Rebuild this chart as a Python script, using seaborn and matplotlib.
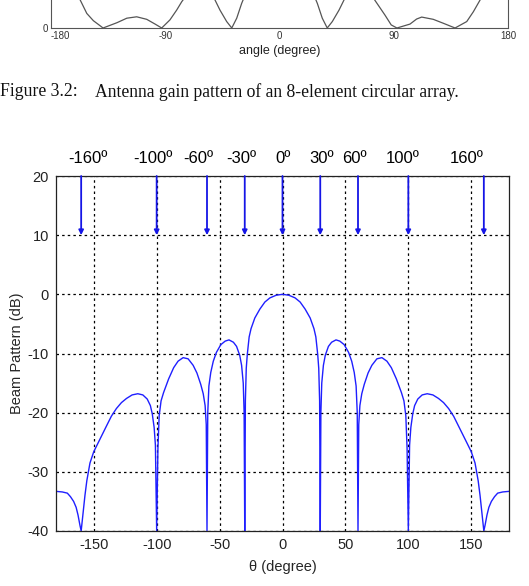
import numpy as np
import pandas as pd
import matplotlib
matplotlib.use("Agg")
import matplotlib.pyplot as plt
import matplotlib.transforms as mtransforms
import seaborn as sns

# ---------------- data ----------------
# main beam pattern (dB)
theta = [-180, -175, -171, -168.5, -166, -164, -162.5, -161, -160,
         -159, -158, -157, -155.5, -153, -150, -147, -144, -140, -136, -132, -128, -124,
         -119.5, -115, -111, -107.5, -105, -103.5, -102, -101, -100,
         -99, -98, -96.5, -94.5, -90.5, -86.5, -83, -79, -75, -71, -68, -65, -63, -61.5, -60.6, -60,
         -59.4, -58.5, -57, -55, -52.5, -49, -45.5, -42.5, -39, -36.5, -34, -32.5, -31.2, -30.5, -30,
         -29.5, -28.8, -28, -26.5, -25, -22, -18, -14, -10, -5, 0,
         5, 10, 14, 18, 22, 25, 26.5, 28, 28.8, 29.5,
         30, 30.5, 31.2, 32.5, 34, 36.5, 39, 42.5, 45.5, 49, 52.5, 55, 57, 58.5, 59.4,
         60, 60.6, 61.5, 63, 65, 68, 71, 75, 79, 83, 86.5, 90.5, 94.5, 96.5, 98, 99,
         100, 101, 102, 103.5, 105, 107.5, 111, 115, 119.5, 124, 128, 132, 136, 140, 144, 147, 150,
         153, 155.5, 157, 158, 159, 160,
         161, 162.5, 164, 166, 168.5, 171, 175, 180]
beam_db = [-33.3, -33.4, -33.6, -34.2, -35.0, -36.0, -37.3, -39.0, -40,
           -38.0, -36.0, -34.0, -31.5, -28.5, -26.6, -25.3, -24.0, -22.3, -20.6, -19.3, -18.3, -17.6,
           -17.0, -16.8, -17.0, -17.7, -18.8, -20.2, -22.5, -25.5, -40,
           -26.0, -20.5, -18.0, -16.6, -14.3, -12.4, -11.3, -10.7, -10.9, -12.0, -13.3, -15.2, -16.8, -18.8, -22.0, -40,
           -20.0, -15.5, -13.2, -11.3, -9.8, -8.5, -7.9, -7.7, -8.1, -8.8, -10.3, -12.0, -15.0, -20.0, -40,
           -18.0, -12.5, -10.2, -7.2, -5.8, -4.0, -2.5, -1.3, -0.6, -0.15, 0.0,
           -0.15, -0.6, -1.3, -2.5, -4.0, -5.8, -7.2, -10.2, -12.5, -18.0,
           -40, -20.0, -15.0, -12.0, -10.3, -8.8, -8.1, -7.7, -7.9, -8.5, -9.8, -11.3, -13.2, -15.5, -20.0,
           -40, -22.0, -18.8, -16.8, -15.2, -13.3, -12.0, -10.9, -10.7, -11.3, -12.4, -14.3, -16.6, -18.0, -20.5, -26.0,
           -40, -25.5, -22.5, -20.2, -18.8, -17.7, -17.0, -16.8, -17.0, -17.6, -18.3, -19.3, -20.6, -22.3, -24.0, -25.3, -26.6,
           -28.5, -31.5, -34.0, -36.0, -38.0, -40,
           -39.0, -37.3, -36.0, -35.0, -34.2, -33.6, -33.4, -33.3]

# arrow directions (nulls) and their labels
null_dirs = [-160, -100, -60, -30, 0, 30, 60, 100, 160]
null_labels = ["-160º", "-100º", "-60º", "-30º", "0º", "30º", "60º", "100º", "160º"]
xticks_main = [-150, -100, -50, 0, 50, 100, 150]
yticks_main = [20, 10, 0, -10, -20, -30, -40]

# previous figure (only its bottom strip is visible)
top_theta = [-180, -170, -157, -151.8, -146.6, -141, -139, -128, -120.3, -112.5, -104.6, -98, -92.8,
             -86.3, -81, -77, -76, -64, -50.8, -46.9, -41.6, -37.6, -33.7, -29.8, -28.7, 0,
             28.7, 29.8, 33.7, 37.6, 41.6, 46.9, 50.8, 64, 75, 83.1, 88, 92.5,
             102.8, 108, 112, 121.1, 129, 138.3, 147.5, 152.7, 158, 170, 180]
top_gain = [3.0, 1.8, 1.0, 0.52, 0.26, 0.07, 0.0, 0.19, 0.35, 0.40, 0.31, 0.14, 0.0,
            0.29, 0.64, 0.94, 1.0, 2.5, 1.0, 0.64, 0.23, 0.0, 0.35, 0.88, 1.0, 5.0,
            1.0, 0.88, 0.35, 0.0, 0.23, 0.64, 1.0, 2.5, 1.0, 0.46, 0.11, 0.0,
            0.14, 0.32, 0.39, 0.31, 0.17, 0.0, 0.23, 0.58, 1.0, 1.8, 3.0]
top_xticks = [-180, -135, -90, -45, 0, 45, 90, 135, 180]
top_xticklabels = ["-180", "", "-90", "", "0", "", "90", "", "180"]

caption_num = "Figure 3.2:"
caption_text = "Antenna gain pattern of an 8-element circular array."

# ---------------- style ----------------
sns.set_style("white")
plt.rcParams["font.family"] = ["Liberation Sans", "DejaVu Sans"]
plt.rcParams["axes.unicode_minus"] = False

W, H = 529, 586
fig = plt.figure(figsize=(W / 100, H / 100), dpi=100)

def frac(x0, y0, x1, y1):
    return [x0 / W, 1 - y1 / H, (x1 - x0) / W, (y1 - y0) / H]

# ---- top (previous) figure strip ----
axt = fig.add_axes(frac(51, 28 - 280, 508, 28))
df_top = pd.DataFrame({"theta": top_theta, "gain": top_gain})
sns.lineplot(data=df_top, x="theta", y="gain", ax=axt, color="#555555", lw=0.9,
             estimator=None, sort=False)
axt.set_xlim(-180, 180)
axt.set_ylim(0, 10)
axt.set_xticks(top_xticks)
axt.set_xticklabels(top_xticklabels, fontsize=7)
axt.get_xticklabels()[0].set_ha("left")
axt.get_xticklabels()[-1].set_ha("center")
axt.set_yticks([0])
axt.set_yticklabels(["0"], fontsize=7)
axt.tick_params(direction="in", length=3, width=0.6, pad=2, colors="#333333")
axt.set_xlabel("angle (degree)", fontsize=9, labelpad=3, color="#222222")
axt.set_ylabel("")
for s in ["left", "bottom", "right"]:
    axt.spines[s].set_visible(True)
    axt.spines[s].set_color("#555555")
    axt.spines[s].set_linewidth(0.8)
axt.spines["top"].set_visible(False)

# caption
serif = ["Liberation Serif", "DejaVu Serif"]
fig.text(0.5 / W, 1 - 92 / H, caption_num, family=serif,
         fontsize=12.7, ha="left", va="center", color="#111111")
fig.text(95 / W, 1 - 92 / H, caption_text, family=serif,
         fontsize=12.7, ha="left", va="center", color="#111111")

# ---- main beam pattern chart ----
ax = fig.add_axes(frac(56, 176, 509, 531))
df = pd.DataFrame({"theta": theta, "db": beam_db})
sns.lineplot(data=df, x="theta", y="db", ax=ax, color="#1f1fff", lw=1.0,
             estimator=None, sort=False)

for d in null_dirs:
    ax.annotate("", xy=(d, 10), xytext=(d, 20),
                arrowprops=dict(arrowstyle="-|>", color="#1515e6", lw=1.3,
                                mutation_scale=7, shrinkA=0, shrinkB=0))

label_x = [-155, -102.6, -66.8, -32.6, 0.8, 31, 57.3, 95.5, 146.4]
trans = mtransforms.blended_transform_factory(ax.transData, ax.transAxes)
for lx, lab in zip(label_x, null_labels):
    ax.text(lx, 1.05, lab, transform=trans, ha="center", va="center",
            fontsize=12, color="black")

ax.set_xlim(-180, 180)
ax.set_ylim(-40, 20)
ax.set_xticks(xticks_main)
ax.set_yticks(yticks_main)
ax.tick_params(direction="in", length=5, width=0.8, labelsize=10.5, pad=5, colors="#222222")
ax.grid(True, color="black", linestyle=(0, (2, 2.5)), linewidth=0.9)
ax.set_axisbelow(True)
for s in ax.spines.values():
    s.set_visible(True)
    s.set_color("#222222")
    s.set_linewidth(0.9)
ax.set_xlabel("θ (degree)", fontsize=10.5, labelpad=6)
ax.set_ylabel("Beam Pattern (dB)", fontsize=10.5, labelpad=3)

fig.savefig("out.png", dpi=100)
